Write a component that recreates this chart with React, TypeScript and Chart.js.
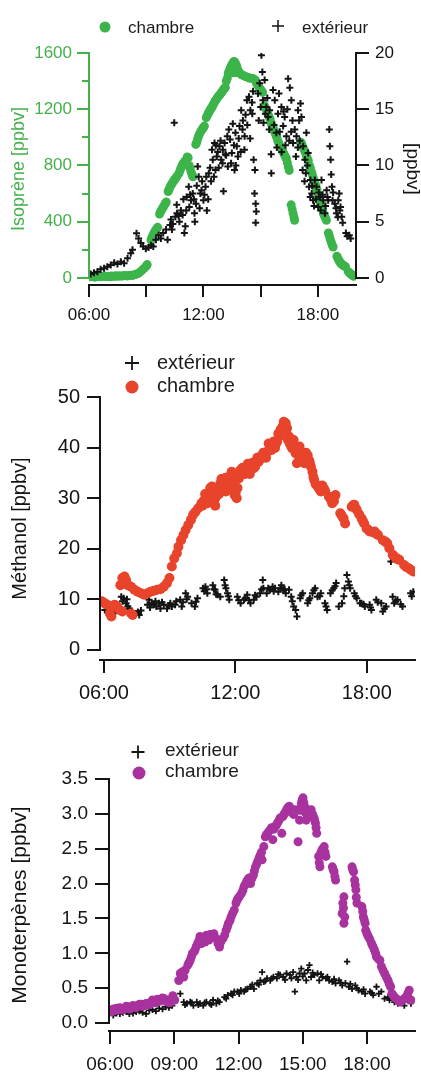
import React, { useEffect, useRef } from 'react';
import { Chart, registerables } from 'chart.js';

Chart.register(...registerables);

const FONT = "'Liberation Sans', Arial, Helvetica, sans-serif";
const GREEN_AXIS = '#46b04d';
const GREEN_DOT = '#3cb44a';
const RED = '#e8442c';
const PURPLE = '#a8329e';
const INK = '#141414';

// ---------- tick definitions (hours as decimals) ----------
const p1XTicks = [6, 9, 12, 15, 18];
const p1XLabels = ['06:00', '', '12:00', '', '18:00'];
const p1LeftTicks = [0, 400, 800, 1200, 1600];
const p1LeftLabels = ['0', '400', '800', '1200', '1600'];
const p1LeftMinor = [200, 600, 1000, 1400];
const p1RightTicks = [0, 5, 10, 15, 20];
const p1RightLabels = ['0', '5', '10', '15', '20'];

const p2XTicks = [6, 12, 18];
const p2XLabels = ['06:00', '12:00', '18:00'];
const p2YTicks = [0, 10, 20, 30, 40, 50];
const p2YLabels = ['0', '10', '20', '30', '40', '50'];

const p3XTicks = [6, 9, 12, 15, 18];
const p3XLabels = ['06:00', '09:00', '12:00', '15:00', '18:00'];
const p3YTicks = [0, 0.5, 1, 1.5, 2, 2.5, 3, 3.5];
const p3YLabels = ['0.0', '0.5', '1.0', '1.5', '2.0', '2.5', '3.0', '3.5'];

// ---------- data: [hour, value] ----------
const isopreneChambre = [
  [6.0, 12], [6.1, 8], [6.2, 10], [6.3, 6], [6.4, 9], [6.5, 12], [6.6, 8], [6.7, 10], [6.8, 14], [6.9, 10],
  [7.0, 12], [7.1, 9], [7.2, 14], [7.3, 11], [7.4, 15], [7.5, 12], [7.6, 16], [7.7, 13], [7.8, 15], [7.9, 18],
  [8.0, 14], [8.1, 17], [8.2, 20], [8.3, 18], [8.4, 24], [8.5, 28], [8.6, 34], [8.7, 45], [8.8, 58], [8.9, 70],
  [9.0, 85], [9.05, 95],
  [9.25, 270], [9.3, 290], [9.35, 300], [9.4, 318], [9.45, 330], [9.5, 342], [9.55, 350], [9.6, 360],
  [9.7, 455], [9.75, 470], [9.8, 482], [9.85, 495], [9.9, 505], [9.95, 518], [10.0, 530], [10.05, 540],
  [10.15, 615], [10.2, 630], [10.25, 648], [10.3, 660], [10.35, 670], [10.4, 682], [10.45, 692], [10.5, 700], [10.55, 712], [10.6, 720],
  [10.7, 740], [10.75, 755], [10.8, 775], [10.85, 790], [10.9, 805], [10.95, 815], [11.0, 825], [11.05, 835],
  [11.15, 860], [11.2, 855], [11.25, 800], [11.3, 780], [11.35, 755], [11.4, 735], [11.45, 720],
  [11.6, 950], [11.65, 965], [11.7, 990], [11.75, 1010], [11.8, 1025], [11.85, 1040], [11.9, 1050], [11.95, 1060], [12.0, 1070], [12.05, 1080],
  [12.15, 1140], [12.2, 1155], [12.25, 1170], [12.3, 1180], [12.35, 1195], [12.4, 1205], [12.45, 1215], [12.5, 1230], [12.55, 1240], [12.6, 1255], [12.65, 1265],
  [12.7, 1275], [12.75, 1285], [12.8, 1295], [12.85, 1300], [12.9, 1310], [12.95, 1320], [13.0, 1330], [13.05, 1340], [13.1, 1348], [13.15, 1355],
  [13.2, 1400], [13.25, 1420], [13.3, 1455], [13.35, 1470], [13.4, 1490], [13.45, 1505], [13.5, 1520], [13.55, 1530], [13.55, 1460],
  [13.6, 1540], [13.6, 1480], [13.62, 1510], [13.65, 1535], [13.68, 1460], [13.7, 1520], [13.72, 1490], [13.75, 1505], [13.8, 1480], [13.85, 1470],
  [13.9, 1455], [14.0, 1445], [14.1, 1440], [14.2, 1432], [14.3, 1428], [14.4, 1422], [14.5, 1420], [14.6, 1418], [14.7, 1410], [14.75, 1400],
  [14.8, 1380], [14.85, 1370], [14.9, 1360], [14.95, 1350], [15.0, 1340], [15.05, 1330], [15.1, 1320],
  [15.2, 1225], [15.25, 1210], [15.3, 1195], [15.35, 1175], [15.4, 1160], [15.45, 1145], [15.5, 1130],
  [15.55, 1100], [15.6, 1085], [15.65, 1070], [15.7, 1050], [15.75, 1035], [15.8, 1015], [15.85, 1000],
  [15.9, 975], [15.95, 960], [16.0, 945], [16.05, 930], [16.1, 920], [16.15, 905], [16.2, 890], [16.25, 875], [16.3, 860], [16.35, 850],
  [16.4, 820], [16.45, 790], [16.5, 765],
  [16.6, 520], [16.65, 490], [16.7, 460], [16.75, 430], [16.78, 410],
  [17.1, 965], [17.15, 955], [17.2, 935], [17.25, 920], [17.3, 905], [17.35, 890], [17.4, 870], [17.45, 850], [17.5, 835],
  [17.55, 800], [17.6, 785], [17.65, 760], [17.7, 740], [17.75, 715], [17.8, 695], [17.85, 675], [17.9, 655], [17.95, 630],
  [18.0, 590], [18.05, 570], [18.1, 545], [18.15, 525], [18.2, 500], [18.25, 485], [18.3, 455], [18.35, 440], [18.4, 425], [18.45, 410],
  [18.55, 320], [18.6, 300], [18.65, 275], [18.7, 255], [18.75, 235], [18.8, 220],
  [19.0, 155], [19.05, 140], [19.1, 125], [19.15, 115], [19.2, 105], [19.25, 98], [19.3, 92], [19.35, 88], [19.4, 84], [19.45, 80],
  [19.6, 45], [19.65, 38], [19.7, 30], [19.75, 26], [19.8, 20], [19.85, 15], [19.9, 12],
];

const isopreneExterieur = [
  [6.09, 0.36], [6.26, 0.47], [6.44, 0.56], [6.61, 0.77], [6.79, 0.86], [6.96, 1.0], [7.14, 1.16], [7.32, 1.36], [7.49, 1.24], [7.67, 1.45],
  [7.84, 1.3], [8.02, 1.75], [8.19, 2.2], [8.28, 2.5], [8.49, 3.97], [8.6, 3.5], [8.72, 3.1], [8.84, 2.8], [8.98, 2.6], [9.12, 2.7],
  [9.25, 2.9], [9.37, 2.8], [9.51, 3.4], [9.65, 3.8], [9.77, 3.5], [9.89, 4.0], [10.04, 4.3], [10.12, 3.4], [10.25, 4.7], [10.35, 4.3],
  [10.47, 13.8], [10.53, 5.45], [10.61, 5.75], [10.74, 5.0], [10.82, 6.0], [10.91, 5.6], [11.0, 4.0], [11.05, 4.6], [11.12, 7.2], [11.23, 8.1],
  [11.26, 6.3], [11.35, 6.9], [11.44, 7.5], [11.53, 5.75], [11.61, 6.6], [11.7, 9.9], [11.75, 9.0], [11.84, 7.5], [11.93, 8.6], [12.0, 6.9],
  [12.11, 8.1], [12.18, 6.0], [12.28, 9.3], [12.4, 8.6], [12.49, 10.5], [12.58, 12.0], [12.63, 9.6], [12.7, 10.8], [12.75, 11.2], [12.84, 11.7],
  [12.93, 10.5], [13.02, 11.4], [13.05, 7.7], [13.11, 12.0], [13.19, 10.9], [13.28, 9.9], [13.33, 13.2], [13.4, 12.3], [13.49, 11.1], [13.54, 13.7],
  [13.63, 9.6], [13.68, 12.9], [13.75, 11.7], [13.81, 10.8], [13.89, 13.5], [13.98, 14.9], [14.07, 14.0], [14.16, 12.6], [14.21, 14.5], [14.28, 15.8],
  [14.39, 16.1], [14.46, 14.9], [14.56, 14.6], [14.63, 10.5], [14.7, 9.6], [14.68, 7.5], [14.74, 6.6], [14.77, 5.9], [14.74, 4.9], [14.86, 16.4],
  [14.95, 17.3], [15.04, 19.8], [15.09, 18.3], [15.12, 15.8], [15.21, 17.6], [15.3, 15.2], [15.39, 14.3], [15.47, 14.9], [15.56, 9.3], [15.65, 16.7],
  [15.74, 15.8], [15.82, 12.9], [15.91, 14.6], [15.96, 16.4], [16.09, 15.2], [16.18, 13.5], [16.26, 14.3], [16.35, 12.6], [16.44, 17.7], [16.53, 16.9],
  [16.61, 15.8], [16.67, 14.0], [16.79, 13.2], [16.88, 12.6], [16.96, 14.9], [17.02, 14.0], [17.09, 15.5], [17.14, 14.3], [17.23, 11.7], [17.32, 10.5],
  [17.37, 9.3], [17.4, 12.9], [17.49, 11.1], [17.54, 8.1], [17.61, 8.7], [17.68, 7.5], [17.75, 6.9], [17.84, 8.7], [17.93, 8.1], [18.02, 6.3],
  [18.11, 7.2], [18.19, 8.7], [18.28, 6.9], [18.37, 5.75], [18.46, 7.8], [18.54, 6.9], [18.6, 13.2], [18.63, 11.7], [18.67, 10.5], [18.74, 8.1],
  [18.77, 6.9], [18.89, 6.6], [18.98, 5.75], [19.07, 6.9], [19.12, 7.5], [19.19, 6.3], [19.25, 5.45], [19.3, 4.9], [19.47, 4.0], [19.54, 3.7],
  [19.65, 3.8], [19.72, 3.5],
  [10.3, 5.2], [10.4, 4.8], [10.6, 6.5], [10.7, 5.5], [10.95, 7.0], [11.1, 6.0], [11.3, 7.4], [11.5, 7.0], [11.55, 5.0], [11.65, 8.2],
  [11.8, 6.2], [11.9, 7.8], [12.05, 7.4], [12.15, 9.0], [12.25, 7.0], [12.35, 9.8], [12.45, 11.4], [12.55, 9.0], [12.65, 11.8], [12.8, 9.8],
  [12.9, 12.2], [13.0, 10.2], [13.15, 11.0], [13.25, 12.6], [13.45, 10.2], [13.6, 11.8], [13.7, 10.0], [13.85, 12.4], [13.95, 11.2], [14.05, 13.2],
  [14.15, 11.4], [14.3, 13.6], [14.45, 12.4], [14.55, 15.6], [14.6, 16.6], [14.9, 14.0], [15.0, 15.2], [15.15, 13.8], [15.25, 14.6], [15.35, 16.0],
  [15.45, 13.2], [15.55, 11.0], [15.7, 13.6], [15.85, 11.6], [16.0, 13.0], [16.1, 11.2], [16.2, 14.8], [16.3, 11.8], [16.4, 15.0], [16.5, 12.2],
  [16.6, 13.0], [16.7, 12.0], [16.85, 10.8], [16.95, 11.6], [17.05, 12.2], [17.2, 9.6], [17.3, 8.6], [17.45, 10.0], [17.6, 7.2], [17.7, 8.2],
  [17.8, 6.4], [17.9, 7.0], [18.05, 7.6], [18.15, 6.0], [18.25, 7.4], [18.4, 6.4], [18.5, 7.2], [18.7, 9.2], [18.8, 7.6], [18.95, 6.2],
  [19.05, 5.4], [19.15, 6.0],
];

const methanolChambre = [
  [5.9, 9.6], [6.04, 9.2], [6.15, 8.9], [6.27, 7.2], [6.34, 6.6], [6.42, 8.6], [6.49, 8.9], [6.6, 8.6], [6.72, 7.9], [6.84, 7.6],
  [6.75, 12.8], [6.84, 14.2], [6.94, 14.5], [7.01, 13.8], [7.09, 12.8], [7.24, 7.2], [7.31, 6.9],
  [7.24, 12.5], [7.39, 11.9], [7.54, 11.5], [7.69, 11.2], [7.84, 10.9], [7.99, 11.2], [8.13, 11.5], [8.28, 11.7], [8.43, 11.9], [8.58, 12.0],
  [8.73, 12.5], [8.88, 13.2], [8.99, 14.2],
  [9.1, 16.5], [9.21, 18.1], [9.33, 19.1], [9.4, 20.4], [9.52, 21.7], [9.63, 22.7], [9.73, 23.7], [9.85, 24.7], [9.97, 25.7], [10.07, 26.7],
  [10.18, 27.3], [10.3, 28.0], [10.45, 29.0], [10.57, 29.6], [10.67, 30.3], [10.78, 30.6], [10.9, 31.3], [10.93, 32.3], [11.04, 29.6], [11.12, 30.3],
  [11.19, 31.9], [11.31, 32.9], [11.42, 33.3], [11.49, 32.3], [11.57, 31.3], [11.64, 33.3], [11.72, 34.3], [11.79, 33.6], [11.87, 34.3], [11.94, 32.3],
  [11.97, 30.6], [12.06, 30.0], [12.16, 33.9], [12.27, 34.9], [12.39, 35.6], [12.51, 35.9], [12.61, 35.6], [12.72, 36.2], [12.84, 35.9], [12.96, 36.9],
  [13.06, 37.2], [13.21, 37.9], [13.36, 38.5], [13.46, 39.2], [13.58, 40.2], [13.7, 40.5], [13.81, 39.9], [13.91, 41.2], [14.0, 42.2], [14.06, 43.5],
  [14.15, 44.1], [14.21, 45.1], [14.3, 44.8], [14.36, 43.8], [14.45, 42.2], [14.48, 40.8], [14.55, 40.2], [14.66, 41.5], [14.75, 38.9], [14.81, 36.9],
  [14.93, 40.2], [15.0, 39.2], [15.07, 37.9], [15.15, 36.9], [15.3, 38.5], [15.37, 37.5], [15.45, 36.2], [15.52, 35.2], [15.6, 33.6], [15.75, 32.3],
  [15.9, 31.3], [16.04, 31.9], [16.27, 30.3], [16.42, 29.0], [16.57, 30.6], [16.79, 27.0], [16.94, 26.0], [17.01, 25.0], [17.31, 28.3], [17.43, 28.7],
  [17.54, 27.7], [17.76, 26.0], [17.88, 25.0], [17.99, 24.0], [18.13, 23.4], [18.36, 23.4], [18.51, 22.7], [18.73, 21.7], [18.93, 21.1], [19.03, 20.1],
  [19.18, 18.8], [19.33, 18.1], [19.48, 17.8], [19.7, 16.8], [19.93, 16.1], [20.12, 15.5],
  [10.5, 28.5], [10.62, 30.8], [10.72, 29.0], [10.85, 32.0], [11.0, 31.0], [11.08, 28.5], [11.25, 30.8], [11.36, 33.8], [11.53, 34.0], [11.68, 31.8],
  [11.83, 35.2], [12.02, 31.2], [12.1, 32.0], [12.22, 35.5], [12.33, 36.0], [12.45, 34.8], [12.57, 36.8], [12.66, 34.8], [12.78, 37.0], [12.9, 36.2],
  [13.0, 38.0], [13.13, 38.2], [13.28, 39.0], [13.4, 38.0], [13.52, 40.8], [13.64, 39.5], [13.75, 41.2], [13.86, 40.8], [13.96, 42.8], [14.1, 43.0],
  [14.25, 44.5], [14.4, 41.5], [14.6, 39.8], [14.7, 40.0], [14.87, 38.5], [15.1, 38.5], [15.22, 39.0], [15.4, 37.0], [15.56, 34.2], [15.66, 32.8],
  [15.83, 31.8], [15.97, 32.5], [16.1, 31.4], [16.35, 29.8], [16.5, 29.4], [16.86, 26.5], [17.37, 28.6], [17.49, 28.0], [17.65, 26.8], [17.82, 25.5],
  [18.05, 23.8], [18.3, 23.2], [18.45, 22.9], [18.85, 21.4], [19.25, 18.5], [19.4, 18.0], [19.8, 16.4], [20.02, 15.8],
];

const methanolExterieur = [
  [6.04, 7.9], [6.15, 8.6], [6.27, 7.8], [6.42, 7.2], [6.57, 8.2], [6.79, 10.5], [6.9, 10.2], [7.01, 9.2], [7.09, 8.6], [7.16, 8.2],
  [7.46, 7.2], [7.61, 6.9], [7.69, 7.8], [7.99, 8.9], [8.06, 9.9], [8.18, 9.2], [8.28, 8.9], [8.39, 8.6], [8.51, 9.2], [8.58, 8.2],
  [8.73, 8.9], [8.88, 8.2], [9.03, 9.2], [9.1, 8.6], [9.25, 8.9], [9.48, 9.9], [9.55, 8.6], [9.73, 11.2], [9.82, 10.5], [10.0, 9.2],
  [10.15, 8.6], [10.27, 10.2], [10.52, 12.2], [10.63, 12.5], [10.72, 11.2], [10.97, 12.8], [11.07, 11.9], [11.19, 10.9], [11.31, 10.5], [11.49, 13.8],
  [11.57, 12.2], [11.64, 11.2], [11.72, 9.9], [12.09, 10.5], [12.24, 9.2], [12.39, 9.9], [12.54, 10.9], [12.69, 9.2], [12.84, 9.9], [12.96, 10.5],
  [13.13, 11.2], [13.25, 13.8], [13.28, 12.2], [13.43, 11.2], [13.58, 11.9], [13.7, 12.5], [13.81, 12.2], [13.96, 11.5], [14.1, 12.8], [14.18, 11.9],
  [14.3, 11.2], [14.45, 11.9], [14.55, 10.5], [14.66, 8.6], [14.75, 7.9], [14.81, 6.6], [14.96, 10.2], [15.07, 11.2], [15.3, 9.2], [15.4, 10.2],
  [15.52, 11.2], [15.64, 12.2], [15.75, 10.5], [15.9, 11.2], [16.09, 9.2], [16.19, 7.9], [16.34, 11.2], [16.49, 12.2], [16.6, 13.2], [16.72, 8.6],
  [16.87, 9.2], [16.99, 12.2], [17.09, 14.8], [17.16, 13.5], [17.24, 12.2], [17.43, 11.2], [17.54, 10.2], [17.69, 9.2], [17.76, 9.2], [17.91, 8.6],
  [18.13, 8.9], [18.21, 7.9], [18.43, 9.9], [18.66, 9.2], [18.73, 7.6], [18.88, 8.6], [19.1, 17.5], [19.18, 10.5], [19.25, 9.2], [19.4, 9.9],
  [19.63, 8.6], [20.0, 11.2], [20.12, 11.5],
  [6.2, 8.2], [6.5, 7.6], [6.85, 9.6], [7.05, 10.0], [7.55, 7.5], [8.1, 8.4], [8.35, 9.6], [8.65, 9.4], [8.95, 8.8], [9.3, 9.6],
  [9.6, 9.4], [9.78, 10.0], [10.2, 9.5], [10.58, 11.6], [10.68, 12.0], [11.02, 12.0], [11.12, 11.0], [11.53, 12.8], [11.68, 10.6], [12.15, 9.8],
  [12.45, 10.2], [12.62, 9.8], [12.9, 10.8], [13.2, 12.0], [13.5, 12.2], [13.75, 11.6], [14.05, 12.2], [14.25, 12.0], [14.6, 9.6], [15.0, 10.8],
  [15.35, 9.8], [15.58, 11.8], [15.85, 10.6], [16.14, 8.6], [16.42, 11.8], [16.55, 12.6], [16.95, 10.6], [17.2, 12.8], [17.48, 10.6], [17.85, 9.0],
  [18.17, 8.4], [18.5, 9.4], [18.8, 8.2], [19.32, 9.6], [19.55, 9.0], [20.05, 10.6],
];

const monoChambre = [
  [6.0, 0.17], [6.08, 0.16], [6.15, 0.2], [6.23, 0.18], [6.3, 0.21], [6.38, 0.19], [6.45, 0.22], [6.53, 0.21], [6.6, 0.19], [6.69, 0.21],
  [6.76, 0.24], [6.84, 0.23], [6.92, 0.2], [6.99, 0.22], [7.07, 0.25], [7.15, 0.24], [7.22, 0.22], [7.3, 0.25], [7.37, 0.27], [7.45, 0.27],
  [7.52, 0.24], [7.6, 0.25], [7.68, 0.28], [7.76, 0.28], [7.83, 0.26], [7.91, 0.3], [7.98, 0.33], [8.06, 0.32], [8.13, 0.29], [8.21, 0.34],
  [8.29, 0.31], [8.37, 0.33], [8.44, 0.36], [8.52, 0.35], [8.6, 0.31], [8.67, 0.33], [8.75, 0.29], [8.82, 0.3], [8.9, 0.34], [8.93, 0.39],
  [9.02, 0.33],
  [9.21, 0.61], [9.28, 0.71], [9.36, 0.73], [9.44, 0.66], [9.51, 0.76],
  [9.63, 0.83], [9.74, 0.9], [9.85, 1.0], [9.97, 1.05], [10.09, 1.14], [10.2, 1.24], [10.27, 1.14], [10.35, 1.21], [10.43, 1.16], [10.5, 1.26],
  [10.61, 1.19], [10.73, 1.24], [10.85, 1.28], [10.96, 1.21], [11.04, 1.14], [11.11, 1.09], [11.27, 1.21], [11.42, 1.33], [11.53, 1.43], [11.65, 1.52],
  [11.8, 1.62], [11.88, 1.72], [11.98, 1.79], [12.14, 1.86], [12.26, 1.96], [12.38, 2.03], [12.49, 2.08], [12.56, 2.0], [12.69, 2.12], [12.79, 2.24],
  [12.9, 2.32], [13.02, 2.41], [13.1, 2.34], [13.18, 2.53], [13.25, 2.67], [13.36, 2.72], [13.48, 2.77], [13.6, 2.63], [13.71, 2.82], [13.82, 2.87],
  [13.94, 2.94], [14.02, 2.72], [14.12, 2.99], [14.24, 3.06], [14.37, 3.11], [14.47, 3.03], [14.58, 2.99], [14.67, 3.06], [14.78, 2.6], [14.85, 2.91],
  [14.93, 3.15], [15.01, 3.23], [15.08, 3.11], [15.16, 2.91], [15.28, 3.03], [15.39, 3.06], [15.5, 2.96], [15.59, 2.87], [15.65, 2.72], [15.74, 2.39],
  [15.8, 2.24], [15.89, 2.48], [16.0, 2.53], [16.08, 2.39], [16.38, 2.24], [16.46, 2.17], [16.53, 2.05], [16.92, 1.81], [16.87, 1.72], [16.84, 1.57],
  [16.92, 1.43], [16.96, 1.52], [17.3, 2.24], [17.37, 2.17], [17.42, 2.05], [17.48, 1.91], [17.53, 1.72], [17.76, 1.67], [17.83, 1.52], [17.91, 1.43],
  [17.94, 1.33], [18.06, 1.24], [18.21, 1.14], [18.34, 1.05], [18.44, 0.95], [18.6, 0.9], [18.67, 0.81], [18.82, 0.71], [18.98, 0.61], [19.1, 0.52],
  [19.16, 0.42], [19.28, 0.37], [19.44, 0.33], [19.56, 0.3], [19.66, 0.33], [19.82, 0.37], [19.97, 0.47], [20.05, 0.33],
  [9.68, 0.86], [9.8, 0.95], [9.92, 1.02], [10.03, 1.1], [10.15, 1.18], [10.55, 1.22], [10.67, 1.27], [10.8, 1.23], [11.17, 1.16], [11.35, 1.26],
  [11.48, 1.38], [11.6, 1.47], [11.72, 1.57], [11.93, 1.76], [12.05, 1.82], [12.2, 1.9], [12.32, 1.99], [12.44, 2.06], [12.62, 2.07], [12.74, 2.18],
  [12.85, 2.28], [12.96, 2.37], [13.07, 2.45], [13.3, 2.7], [13.42, 2.75], [13.54, 2.8], [13.65, 2.78], [13.77, 2.84], [13.88, 2.9], [14.07, 2.96],
  [14.18, 3.02], [14.3, 3.09], [14.42, 3.08], [14.52, 3.01], [14.62, 3.03], [14.89, 3.05], [14.97, 3.2], [15.05, 3.16], [15.12, 3.02], [15.22, 2.97],
  [15.34, 3.05], [15.45, 3.0], [15.55, 2.92], [15.62, 2.8], [15.77, 2.3], [15.84, 2.44], [15.94, 2.5], [16.04, 2.45], [16.42, 2.2], [16.5, 2.1],
  [16.9, 1.65], [17.33, 2.2], [17.45, 1.98], [17.5, 1.8], [17.8, 1.6], [17.87, 1.48], [18.0, 1.28], [18.13, 1.2], [18.27, 1.1], [18.4, 1.0],
  [18.52, 0.92], [18.74, 0.76], [18.9, 0.66], [19.04, 0.56], [19.22, 0.4], [19.36, 0.35], [19.5, 0.31], [19.75, 0.35], [19.9, 0.42],
];

const monoExterieur = [
  [6.15, 0.11], [6.3, 0.14], [6.46, 0.13], [6.6, 0.15], [6.76, 0.16], [6.9, 0.13], [7.07, 0.14], [7.22, 0.16], [7.37, 0.17], [7.52, 0.15],
  [7.68, 0.13], [7.83, 0.18], [7.98, 0.19], [8.14, 0.17], [8.29, 0.21], [8.45, 0.2], [8.6, 0.23], [8.75, 0.22], [8.9, 0.25],
  [9.28, 0.42], [9.44, 0.3], [9.59, 0.28], [9.74, 0.3], [9.89, 0.25], [10.05, 0.3], [10.2, 0.28], [10.35, 0.25], [10.5, 0.3], [10.66, 0.28],
  [10.81, 0.33], [10.96, 0.28], [11.11, 0.3], [11.34, 0.37], [11.5, 0.4], [11.65, 0.42], [11.8, 0.45], [11.95, 0.45], [12.11, 0.47], [12.26, 0.45],
  [12.41, 0.49], [12.56, 0.52], [12.72, 0.49], [12.87, 0.57], [13.02, 0.61], [13.1, 0.73], [13.18, 0.59], [13.33, 0.64], [13.48, 0.61], [13.63, 0.66],
  [13.79, 0.64], [13.94, 0.69], [14.09, 0.66], [14.24, 0.71], [14.4, 0.69], [14.55, 0.73], [14.63, 0.45], [14.7, 0.66], [14.85, 0.71], [14.93, 0.78],
  [15.08, 0.71], [15.16, 0.61], [15.24, 0.76], [15.31, 0.83], [15.39, 0.66], [15.54, 0.69], [15.69, 0.71], [15.77, 0.61], [15.92, 0.66], [16.08, 0.64],
  [16.23, 0.61], [16.38, 0.59], [16.53, 0.57], [16.69, 0.61], [16.84, 0.54], [16.99, 0.57], [17.07, 0.88], [17.15, 0.52], [17.3, 0.49], [17.45, 0.54],
  [17.6, 0.47], [17.76, 0.45], [17.91, 0.42], [18.14, 0.45], [18.29, 0.4], [18.44, 0.52], [18.67, 0.45], [18.82, 0.35], [18.98, 0.37], [19.13, 0.4],
  [19.28, 0.3], [19.44, 0.28], [19.59, 0.3], [19.74, 0.25], [19.89, 0.33], [20.05, 0.28],
  [9.5, 0.26], [9.82, 0.29], [10.12, 0.26], [10.42, 0.29], [10.73, 0.26], [11.03, 0.32], [11.42, 0.35], [11.72, 0.4], [12.03, 0.42], [12.33, 0.48],
  [12.64, 0.55], [12.95, 0.55], [13.25, 0.6], [13.55, 0.64], [13.86, 0.7], [14.17, 0.62], [14.47, 0.64], [14.78, 0.62], [15.0, 0.67], [15.46, 0.72],
  [15.85, 0.7], [16.15, 0.66], [16.46, 0.63], [16.77, 0.58], [17.22, 0.56], [17.52, 0.5], [17.84, 0.48], [18.22, 0.43], [18.55, 0.42], [19.05, 0.33],
  [19.36, 0.33], [19.67, 0.32],
];

// ---------- helpers ----------
const toXY = (arr: number[][]) => arr.map(([x, y]) => ({ x, y }));

const igorAxes = {
  id: 'igorAxes',
  afterDraw(chart: any, _args: any, opts: any) {
    const ctx = chart.ctx;
    ctx.save();
    for (const a of opts.axes || []) {
      const s = chart.scales[a.id];
      const x = s.position === 'left' ? s.right : s.left;
      const yTop = s.getPixelForValue(a.to);
      const yBot = s.getPixelForValue(a.from);
      ctx.strokeStyle = a.color;
      ctx.lineWidth = a.width;
      ctx.beginPath();
      ctx.moveTo(x, yTop - a.width / 2);
      ctx.lineTo(x, yBot + a.width / 2);
      ctx.stroke();
      const dir = s.position === 'left' ? -1 : 1;
      for (const m of a.minor || []) {
        const y = Math.round(s.getPixelForValue(m));
        ctx.beginPath();
        ctx.moveTo(x, y);
        ctx.lineTo(x + dir * a.minorLength, y);
        ctx.stroke();
      }
    }
    ctx.restore();
  },
};

const igorLegend = {
  id: 'igorLegend',
  afterDraw(chart: any, _args: any, opts: any) {
    const ctx = chart.ctx;
    ctx.save();
    ctx.font = `${opts.size}px ${FONT}`;
    ctx.textBaseline = 'middle';
    ctx.textAlign = 'left';
    for (const it of opts.items || []) {
      const ds = chart.data.datasets[it.dataset];
      if (ds.pointStyle === 'cross') {
        ctx.strokeStyle = ds.borderColor;
        ctx.lineWidth = it.lineWidth;
        ctx.beginPath();
        ctx.moveTo(it.x - it.size, it.y);
        ctx.lineTo(it.x + it.size, it.y);
        ctx.moveTo(it.x, it.y - it.size);
        ctx.lineTo(it.x, it.y + it.size);
        ctx.stroke();
      } else {
        ctx.fillStyle = ds.backgroundColor;
        ctx.beginPath();
        ctx.arc(it.x, it.y, it.size, 0, Math.PI * 2);
        ctx.fill();
      }
      ctx.fillStyle = opts.color;
      ctx.fillText(ds.label, it.textX, it.textY);
    }
    ctx.restore();
  },
};

const xScale = (o: any) => ({
  type: 'linear',
  position: 'bottom',
  min: o.min,
  max: o.max,
  bounds: 'data',
  afterBuildTicks: (s: any) => {
    s.ticks = o.ticks.map((value: number) => ({ value }));
  },
  afterFit: (s: any) => {
    s.height = o.height;
  },
  ticks: {
    autoSkip: false,
    maxRotation: 0,
    minRotation: 0,
    padding: o.padding,
    color: INK,
    font: { family: FONT, size: o.size },
    callback: (_v: any, i: number) => o.labels[i],
  },
  grid: { drawOnChartArea: false, drawTicks: true, tickLength: o.tickLength, color: INK, lineWidth: 2 },
  border: { display: true, color: INK, width: 2 },
});

const yScale = (o: any) => ({
  type: 'linear',
  position: o.position,
  min: o.min,
  max: o.max,
  bounds: 'data',
  afterBuildTicks: (s: any) => {
    s.ticks = o.ticks.map((value: number) => ({ value }));
  },
  afterFit: (s: any) => {
    s.width = o.width;
  },
  ticks: {
    autoSkip: false,
    padding: o.padding,
    color: o.color,
    font: { family: FONT, size: o.size },
    callback: (_v: any, i: number) => o.labels[i],
  },
  grid: { drawOnChartArea: false, drawTicks: true, tickLength: o.tickLength, color: o.color, lineWidth: 2 },
  border: { display: false },
  title: {
    display: true,
    text: o.title,
    color: o.color,
    font: { family: FONT, size: o.titleSize },
    padding: { top: o.titlePad, bottom: 0 },
  },
});

const crossSet = (label: string, data: number[][], radius: number, width: number, axis?: string) => ({
  label,
  data: toXY(data),
  yAxisID: axis || 'y',
  pointStyle: 'cross',
  pointRadius: radius,
  pointBorderWidth: width,
  pointBorderColor: INK,
  pointBackgroundColor: INK,
  borderColor: INK,
  backgroundColor: INK,
  showLine: false,
});

const dotSet = (label: string, data: number[][], color: string, radius: number, axis?: string) => ({
  label,
  data: toXY(data),
  yAxisID: axis || 'y',
  pointStyle: 'circle',
  pointRadius: radius,
  pointBorderWidth: 0,
  pointBackgroundColor: color,
  pointBorderColor: color,
  borderColor: color,
  backgroundColor: color,
  showLine: false,
});

const baseOptions = (padTop: number) => ({
  animation: false,
  responsive: false,
  events: [],
  layout: { padding: { top: padTop, left: 0, right: 0, bottom: 0 } },
});

// ---------- panel configs ----------
const panel1 = () => ({
  type: 'scatter',
  data: {
    datasets: [
      crossSet('extérieur', isopreneExterieur, 3.5, 2, 'yR'),
      dotSet('chambre', isopreneChambre, GREEN_DOT, 4.5, 'yL'),
    ],
  },
  options: {
    ...baseOptions(53),
    scales: {
      x: xScale({ min: 6, max: 20, ticks: p1XTicks, labels: p1XLabels, size: 17, padding: 8, tickLength: 12, height: 50 }),
      yL: yScale({
        position: 'left', min: -50, max: 1600, ticks: p1LeftTicks, labels: p1LeftLabels, color: GREEN_AXIS,
        size: 17, padding: 5, tickLength: 12, width: 89, title: 'Isoprène [ppbv]', titleSize: 18, titlePad: 8,
      }),
      yR: yScale({
        position: 'right', min: -0.625, max: 20, ticks: p1RightTicks, labels: p1RightLabels, color: INK,
        size: 17, padding: 6, tickLength: 13, width: 65, title: '[ppbv]', titleSize: 19, titlePad: -3,
      }),
    },
    plugins: {
      legend: { display: false },
      tooltip: { enabled: false },
      igorAxes: {
        axes: [
          { id: 'yL', from: 0, to: 1600, color: GREEN_AXIS, width: 2, minor: p1LeftMinor, minorLength: 7 },
          { id: 'yR', from: 0, to: 20, color: INK, width: 2 },
        ],
      },
      igorLegend: {
        size: 17,
        color: '#1c1c1c',
        items: [
          { dataset: 1, x: 105, y: 27, size: 5.5, textX: 128, textY: 28 },
          { dataset: 0, x: 278, y: 26, size: 6, lineWidth: 1.5, textX: 302, textY: 28 },
        ],
      },
    },
  },
  plugins: [igorAxes, igorLegend],
});

const panel2 = () => ({
  type: 'scatter',
  data: {
    datasets: [
      dotSet('chambre', methanolChambre, RED, 5),
      crossSet('extérieur', methanolExterieur, 3.5, 2),
    ],
  },
  options: {
    ...baseOptions(62),
    scales: {
      x: xScale({ min: 5.82, max: 20.2, ticks: p2XTicks, labels: p2XLabels, size: 20, padding: 8, tickLength: 13, height: 45 }),
      y: yScale({
        position: 'left', min: -2, max: 50, ticks: p2YTicks, labels: p2YLabels, color: INK,
        size: 20, padding: 7, tickLength: 13, width: 100, title: 'Méthanol [ppbv]', titleSize: 20, titlePad: 8,
      }),
    },
    plugins: {
      legend: { display: false },
      tooltip: { enabled: false },
      igorAxes: { axes: [{ id: 'y', from: 0, to: 50, color: INK, width: 2 }] },
      igorLegend: {
        size: 20,
        color: '#1c1c1c',
        items: [
          { dataset: 1, x: 132, y: 28, size: 7, lineWidth: 1.8, textX: 157, textY: 28 },
          { dataset: 0, x: 132, y: 52, size: 6.5, textX: 157, textY: 51 },
        ],
      },
    },
  },
  plugins: [igorAxes, igorLegend],
});

const panel3 = () => ({
  type: 'scatter',
  data: {
    datasets: [
      dotSet('chambre', monoChambre, PURPLE, 4.5),
      crossSet('extérieur', monoExterieur, 3.2, 1.8),
    ],
  },
  options: {
    ...baseOptions(79),
    scales: {
      x: xScale({ min: 5.95, max: 20.25, ticks: p3XTicks, labels: p3XLabels, size: 19, padding: 9, tickLength: 13, height: 42 }),
      y: yScale({
        position: 'left', min: -0.115, max: 3.5, ticks: p3YTicks, labels: p3YLabels, color: INK,
        size: 19, padding: 7, tickLength: 14, width: 109, title: 'Monoterpènes [ppbv]', titleSize: 21, titlePad: 8,
      }),
    },
    plugins: {
      legend: { display: false },
      tooltip: { enabled: false },
      igorAxes: { axes: [{ id: 'y', from: 0, to: 3.5, color: INK, width: 2 }] },
      igorLegend: {
        size: 19,
        color: '#1c1c1c',
        items: [
          { dataset: 1, x: 138, y: 52, size: 6.5, lineWidth: 1.8, textX: 165, textY: 51 },
          { dataset: 0, x: 139, y: 73, size: 6.5, textX: 165, textY: 72 },
        ],
      },
    },
  },
  plugins: [igorAxes, igorLegend],
});

function Panel({ top, height, config }: { top: number; height: number; config: () => any }) {
  const ref = useRef<HTMLCanvasElement | null>(null);
  useEffect(() => {
    if (!ref.current) return;
    const chart = new Chart(ref.current, config());
    return () => chart.destroy();
  }, []);
  return (
    <canvas
      ref={ref}
      width={421}
      height={height}
      style={{ position: 'absolute', left: 0, top, width: 421, height }}
    />
  );
}

export default function App() {
  return (
    <div
      style={{
        position: 'absolute',
        left: 0,
        top: 0,
        width: 421,
        height: 1073,
        overflow: 'hidden',
        background: '#ffffff',
      }}
    >
      <Panel top={0} height={335} config={panel1} />
      <Panel top={335} height={370} config={panel2} />
      <Panel top={700} height={373} config={panel3} />
    </div>
  );
}
